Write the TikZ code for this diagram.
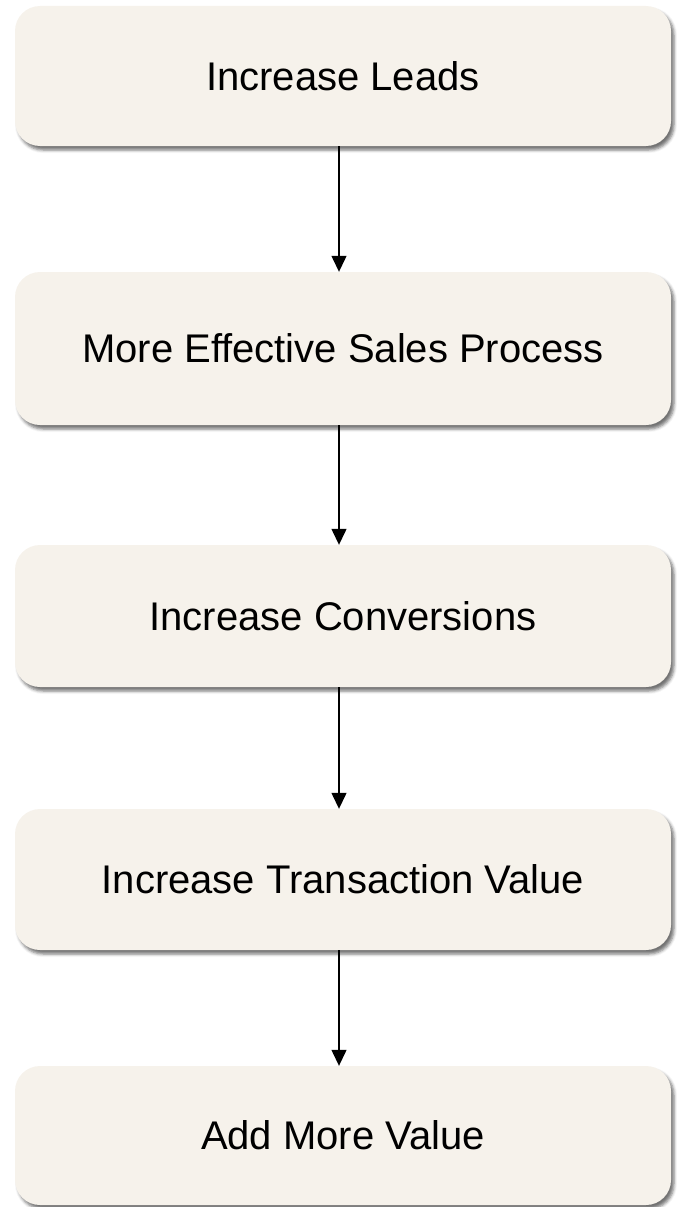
\documentclass[tikz,border=0pt]{standalone}
\usepackage{fontspec}
\setmainfont{Liberation Sans}
\usetikzlibrary{arrows.meta,shadows.blur}
\definecolor{boxfill}{RGB}{246,242,235}
\tikzset{
  stagebox/.style={draw=none, fill=boxfill, rounded corners=25pt,
    minimum width=656pt, inner sep=0pt, text height=28.6pt, text depth=-4pt,
    font=\fontsize{40}{48}\selectfont, text=black,
    blur shadow={shadow xshift=3pt, shadow yshift=-4pt, shadow blur radius=3pt, shadow opacity=55}},
  flowarrow/.style={line width=1.3pt, -{Triangle[width=15pt,length=16pt]}}
}
\begin{document}
\begin{tikzpicture}[x=1pt,y=1pt]
\useasboundingbox (0,0) rectangle (677,-1207);
\node[stagebox, minimum height=140pt] (b1) at (343,-76) {Increase Leads};
\node[stagebox, minimum height=153pt] (b2) at (343,-348.5) {More Effective Sales Process};
\node[stagebox, minimum height=142pt] (b3) at (343,-616) {Increase Conversions};
\node[stagebox, minimum height=141pt] (b4) at (343,-879.5) {Increase Transaction Value};
\node[stagebox, minimum height=139pt] (b5) at (343,-1135.5) {Add More Value};
\draw[flowarrow] ([xshift=-4pt]b1.south) -- ([xshift=-4pt]b2.north);
\draw[flowarrow] ([xshift=-4pt]b2.south) -- ([xshift=-4pt]b3.north);
\draw[flowarrow] ([xshift=-4pt]b3.south) -- ([xshift=-4pt]b4.north);
\draw[flowarrow] ([xshift=-4pt]b4.south) -- ([xshift=-4pt]b5.north);
\end{tikzpicture}
\end{document}
